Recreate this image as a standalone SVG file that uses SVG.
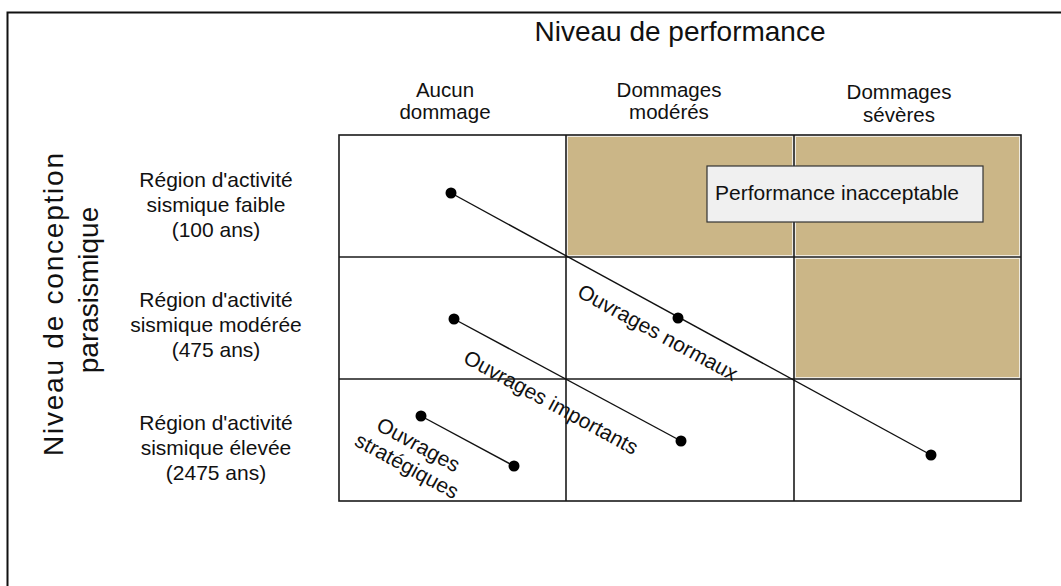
<svg xmlns="http://www.w3.org/2000/svg" width="1061" height="586" viewBox="0 0 1061 586">
<style>
text{font-family:"Liberation Sans",Arial,sans-serif;fill:#111}
.hdr{font-size:20.5px;text-anchor:middle}
.row{font-size:21px;text-anchor:middle}
.lbl{font-size:21px}
.grid{stroke:#1a1a1a;stroke-width:1.6;fill:none}
.shade{fill:#CBB687;stroke:#EFEADF;stroke-width:1}
.conn{stroke:#111;stroke-width:1.4;fill:none}
.dot{fill:#000}
</style>
<rect width="1061" height="586" fill="#fff"/>
<rect x="7.5" y="12.5" width="1100" height="700" fill="none" stroke="#111" stroke-width="2"/>

<g id="title">
<text x="680" y="41" font-size="28" text-anchor="middle">Niveau de performance</text>
</g>
<g id="axis-y">
<text transform="translate(63,304.5) rotate(-90)" font-size="28" text-anchor="middle" textLength="303" lengthAdjust="spacing">Niveau de conception</text>
<text transform="translate(98,290) rotate(-90)" font-size="28" text-anchor="middle">parasismique</text>
</g>

<g id="col-headers">
<text class="hdr" x="445" y="97">Aucun</text>
<text class="hdr" x="445" y="119">dommage</text>
<text class="hdr" x="669" y="97">Dommages</text>
<text class="hdr" x="669" y="119">modérés</text>
<text class="hdr" x="899" y="99">Dommages</text>
<text class="hdr" x="899" y="122">sévères</text>
</g>

<g id="row-headers">
<text class="row" x="216" y="187">Région d'activité</text>
<text class="row" x="216" y="212">sismique faible</text>
<text class="row" x="216" y="237">(100 ans)</text>
<text class="row" x="216" y="307">Région d'activité</text>
<text class="row" x="216" y="332">sismique modérée</text>
<text class="row" x="216" y="357">(475 ans)</text>
<text class="row" x="216" y="430">Région d'activité</text>
<text class="row" x="216" y="455">sismique élevée</text>
<text class="row" x="216" y="480">(2475 ans)</text>
</g>

<g id="matrix">
<rect class="shade" x="567.5" y="136.5" width="225" height="119"/>
<rect class="shade" x="795.5" y="136.5" width="224" height="119"/>
<rect class="shade" x="795.5" y="258.5" width="224" height="119"/>
<rect class="grid" x="339" y="135" width="682" height="366"/>
<line class="grid" x1="566" y1="135" x2="566" y2="501"/>
<line class="grid" x1="794" y1="135" x2="794" y2="501"/>
<line class="grid" x1="339" y1="257" x2="1021" y2="257"/>
<line class="grid" x1="339" y1="379" x2="1021" y2="379"/>
</g>

<g id="performance-inacceptable">
<rect x="707" y="166" width="276" height="56" fill="#F0F0F0" stroke="#333" stroke-width="1.2"/>
<text class="lbl" x="715" y="200">Performance inacceptable</text>
</g>

<g id="connectors">
<line class="conn" x1="451" y1="193" x2="931" y2="455"/>
<line class="conn" x1="454" y1="319" x2="681" y2="441"/>
<line class="conn" x1="421" y1="416" x2="514" y2="466"/>
</g>

<g id="dots">
<circle class="dot" cx="451" cy="193" r="5.5"/>
<circle class="dot" cx="678" cy="318" r="5.5"/>
<circle class="dot" cx="931" cy="455" r="5.5"/>
<circle class="dot" cx="454" cy="319" r="5.5"/>
<circle class="dot" cx="681" cy="441" r="5.5"/>
<circle class="dot" cx="421" cy="416" r="5.5"/>
<circle class="dot" cx="514" cy="466" r="5.5"/>
</g>

<g id="ouvrages-normaux">
<text class="lbl" transform="translate(576,296) rotate(28.6)">Ouvrages normaux</text>
</g>
<g id="ouvrages-importants">
<text class="lbl" transform="translate(462,362) rotate(28.6)">Ouvrages importants</text>
</g>
<g id="ouvrages-strategiques">
<text class="lbl" transform="translate(415,451) rotate(28.6)" text-anchor="middle"><tspan x="0" y="0">Ouvrages</tspan><tspan x="0" y="24">stratégiques</tspan></text>
</g>
</svg>
